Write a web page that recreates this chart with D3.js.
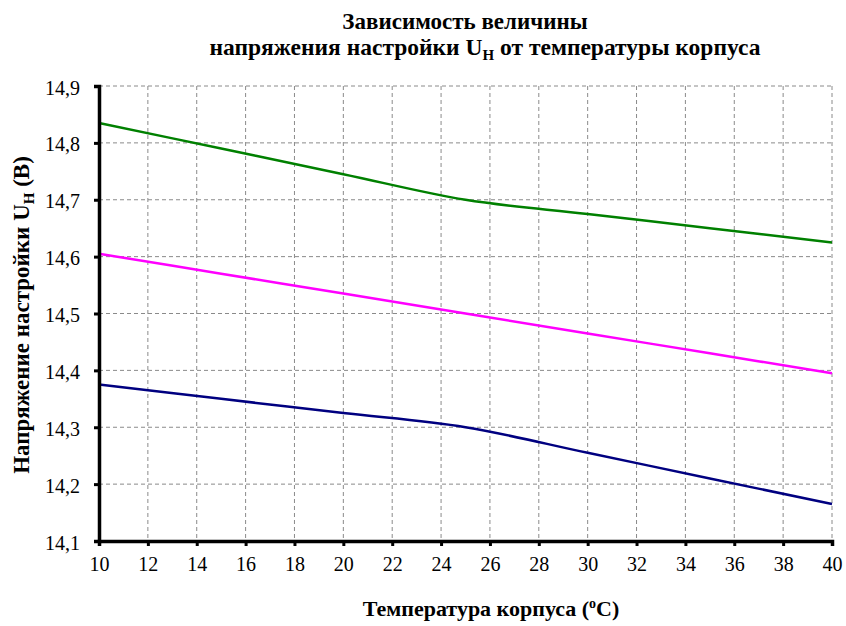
<!DOCTYPE html>
<html><head><meta charset="utf-8">
<script src="https://cdn.jsdelivr.net/npm/d3@7"></script>
<style>body{margin:0;background:#fff}svg{display:block}</style>
</head><body><svg id="c" width="846" height="626"></svg>
<script>
const temps = [10, 15, 20, 25, 30, 35, 40];
const seriesGreen = [14.835, 14.79, 14.745, 14.70, 14.675, 14.65, 14.625];
const seriesMagenta = [14.605, 14.57, 14.535, 14.50, 14.465, 14.43, 14.395];
const seriesNavy = [14.375, 14.35, 14.325, 14.30, 14.255, 14.21, 14.165];
const xTicks = [10,12,14,16,18,20,22,24,26,28,30,32,34,36,38,40];
const yTicks = [14.1,14.2,14.3,14.4,14.5,14.6,14.7,14.8,14.9];
const colors = ["#008000", "#ff00ff", "#000080"];
const FONT = "Liberation Serif, DejaVu Serif, serif";

const svg = d3.select("#c").attr("font-family", FONT);
const L = 99, R = 832, T = 86, B = 541;
const x = d3.scaleLinear().domain([10, 40]).range([L, R]);
const y = d3.scaleLinear().domain([14.1, 14.9]).range([B, T]);
const fmt = d => d.toFixed(1).replace(".", ",");

// grid
const g = svg.append("g");
g.selectAll(".vg").data(xTicks.slice(1)).enter().append("line")
  .attr("x1", d => x(d)).attr("x2", d => x(d)).attr("y1", T).attr("y2", B)
  .attr("stroke", "#8a8a8a").attr("stroke-width", 1).attr("stroke-dasharray", "4,3");
g.selectAll(".hg").data(yTicks.slice(1)).enter().append("line")
  .attr("y1", d => y(d)).attr("y2", d => y(d)).attr("x1", L).attr("x2", R)
  .attr("stroke", "#8a8a8a").attr("stroke-width", 1).attr("stroke-dasharray", "4,3");

// lines
const line = d3.line().x((d, i) => x(temps[i])).y(d => y(d)).curve(d3.curveCatmullRom.alpha(0.5));
[seriesGreen, seriesMagenta, seriesNavy].forEach((s, i) => {
  svg.append("path").datum(s).attr("d", line).attr("fill", "none")
    .attr("stroke", colors[i]).attr("stroke-width", 2.5);
});

// axes
const xa = svg.append("g").attr("transform", `translate(0,${B})`)
  .call(d3.axisBottom(x).tickValues(xTicks).tickSize(5).tickPadding(9).tickFormat(d3.format("d")));
const ya = svg.append("g").attr("transform", `translate(${L},0)`)
  .call(d3.axisLeft(y).tickValues(yTicks).tickSize(5).tickPadding(14).tickFormat(fmt));
[xa, ya].forEach(a => {
  a.attr("font-family", FONT).attr("font-size", 20);
  a.select(".domain").attr("stroke", "#000").attr("stroke-width", 3.5);
  a.selectAll(".tick line").attr("stroke", "#000").attr("stroke-width", 3);
  a.selectAll(".tick text").attr("fill", "#000");
});
xa.selectAll(".tick text").attr("dy", "0.8em");
ya.selectAll(".tick text").attr("dy", "0.4em");

// titles
svg.append("text").attr("x", 465).attr("y", 29).attr("text-anchor", "middle")
  .attr("font-size", 23).attr("font-weight", "bold").text("Зависимость величины");
const t2 = svg.append("text").attr("x", 485).attr("y", 55).attr("text-anchor", "middle")
  .attr("font-size", 23.5).attr("font-weight", "bold");
t2.append("tspan").text("напряжения настройки U");
t2.append("tspan").attr("font-size", 15).attr("dy", 5).text("Н");
t2.append("tspan").attr("dy", -5).text(" от температуры корпуса");

const xl = svg.append("text").attr("x", 491).attr("y", 616).attr("text-anchor", "middle")
  .attr("font-size", 22).attr("font-weight", "bold");
xl.append("tspan").text("Температура корпуса (");
xl.append("tspan").attr("font-size", 14).attr("dy", -8).text("o");
xl.append("tspan").attr("dy", 8).text("C)");

const yl = svg.append("text").attr("transform", "translate(29,315) rotate(-90)")
  .attr("text-anchor", "middle").attr("font-size", 23).attr("font-weight", "bold");
yl.append("tspan").text("Напряжение настройки U");
yl.append("tspan").attr("font-size", 15).attr("dy", 5).text("Н");
yl.append("tspan").attr("dy", -5).text(" (В)");
</script></body></html>
